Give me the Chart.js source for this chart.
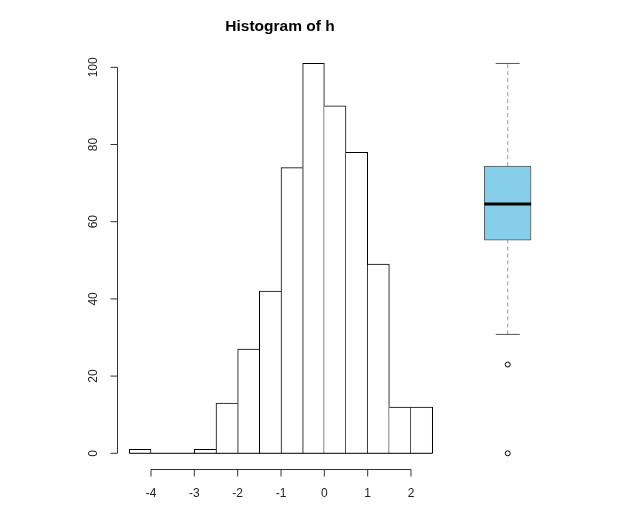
<!DOCTYPE html>
<html>
<head>
<meta charset="utf-8">
<script src="https://cdn.jsdelivr.net/npm/chart.js@4.4.1/dist/chart.umd.min.js"></script>
<style>
  body { margin: 0; background: #fff; }
</style>
</head>
<body>
<canvas id="histChart" width="640" height="517"></canvas>
<script>
// histogram of h
const breaks = [-4.5, -4, -3.5, -3, -2.5, -2, -1.5, -1, -0.5, 0, 0.5, 1, 1.5, 2, 2.5];
const counts = [1, 0, 0, 1, 13, 27, 42, 74, 101, 90, 78, 49, 12, 12];
const xTicks = [-4, -3, -2, -1, 0, 1, 2];
const yTicks = [0, 20, 40, 60, 80, 100];

// boxplot stats
const boxStats = [30.8, 55.2, 64.6, 74.4, 101]; // low whisker, q1, median, q3, high whisker
const outliers = [23, 0];

// where the boxplot sits (layout, not data)
const boxX = 4.232;
const boxHalf = 0.539;
const capHalf = 0.277;

const mids = counts.map((c, i) => (breaks[i] + breaks[i + 1]) / 2);
const last = counts.length - 1;

const rAxes = {
  id: "rAxes",
  afterDraw(chart) {
    const ctx = chart.ctx;
    const xs = chart.scales.x;
    const ys = chart.scales.y;
    ctx.save();
    ctx.strokeStyle = "#333";
    ctx.fillStyle = "#222";
    ctx.lineWidth = 1;

    // y axis
    const ax = Math.round(xs.getPixelForValue(breaks[0]) - 12) + 0.5;
    ctx.beginPath();
    ctx.moveTo(ax, ys.getPixelForValue(yTicks[0]));
    ctx.lineTo(ax, ys.getPixelForValue(yTicks[yTicks.length - 1]));
    ctx.stroke();
    ctx.font = "12px 'Liberation Sans', Arial, sans-serif";
    ctx.textAlign = "center";
    ctx.textBaseline = "middle";
    for (const t of yTicks) {
      const py = ys.getPixelForValue(t);
      ctx.beginPath();
      ctx.moveTo(ax, py);
      ctx.lineTo(ax - 7, py);
      ctx.stroke();
      ctx.save();
      ctx.translate(ax - 24, py);
      ctx.rotate(-Math.PI / 2);
      ctx.fillText(String(t), 0, 0);
      ctx.restore();
    }

    // x axis
    const ay = Math.round(ys.getPixelForValue(0) + 16) + 0.5;
    ctx.beginPath();
    ctx.moveTo(xs.getPixelForValue(xTicks[0]), ay);
    ctx.lineTo(xs.getPixelForValue(xTicks[xTicks.length - 1]), ay);
    ctx.stroke();
    for (const t of xTicks) {
      const px = xs.getPixelForValue(t);
      ctx.beginPath();
      ctx.moveTo(px, ay);
      ctx.lineTo(px, ay + 7);
      ctx.stroke();
      ctx.fillText(String(t), px, ay + 24);
    }

    // title
    ctx.font = "bold 15.5px 'Liberation Sans', Arial, sans-serif";
    ctx.fillStyle = "#000";
    ctx.textBaseline = "alphabetic";
    const cx = (xs.getPixelForValue(breaks[0]) + xs.getPixelForValue(breaks[breaks.length - 1])) / 2;
    ctx.fillText("Histogram of h", cx - 1, 31);
    ctx.restore();
  }
};

const seg = (x1, y1, x2, y2) => [{ x: x1, y: y1 }, { x: x2, y: y2 }];
const lineDs = (data, color, width, dash) => ({
  type: "line",
  data: data,
  borderColor: color,
  borderWidth: width,
  borderDash: dash || [],
  pointRadius: 0,
  fill: false
});

new Chart("histChart", {
  type: "bar",
  data: {
    datasets: [
      lineDs(seg(boxX - boxHalf, boxStats[2], boxX + boxHalf, boxStats[2]), "#000", 3),
      {
        type: "scatter",
        data: outliers.map(v => ({ x: boxX, y: v })),
        pointRadius: 2.5,
        pointBackgroundColor: "#fff",
        pointBorderColor: "#000",
        pointBorderWidth: 1
      },
      {
        data: [{ x: boxX, y: [boxStats[1], boxStats[3]] }],
        backgroundColor: "#87CEEB",
        borderColor: "#555",
        borderWidth: 1,
        borderSkipped: false,
        barThickness: 46.7,
        grouped: false
      },
      lineDs(seg(boxX - capHalf, boxStats[4], boxX + capHalf, boxStats[4]), "#555", 1),
      lineDs(seg(boxX - capHalf, boxStats[0], boxX + capHalf, boxStats[0]), "#555", 1),
      lineDs(seg(boxX, boxStats[3], boxX, boxStats[4]), "#999", 1, [4, 3]),
      lineDs(seg(boxX, boxStats[0], boxX, boxStats[1]), "#999", 1, [4, 3]),
      lineDs(seg(breaks[0], 0, breaks[breaks.length - 1], 0), "#000", 1),
      {
        data: counts.map((c, i) => ({ x: mids[i], y: c })),
        backgroundColor: "#fff",
        borderColor: "#000",
        borderSkipped: false,
        borderWidth: ctx => {
          const i = ctx.dataIndex;
          return {
            left: (i === 0 || counts[i] > counts[i - 1]) ? 1 : 0,
            right: (i === last || counts[i] >= counts[i + 1]) ? 1 : 0,
            top: 1,
            bottom: 0
          };
        },
        barPercentage: 1,
        categoryPercentage: 1,
        grouped: false
      }
    ]
  },
  options: {
    responsive: false,
    animation: false,
    layout: { padding: { left: 107.67, right: 99, top: 36.42, bottom: 48.26 } },
    plugins: { legend: { display: false }, tooltip: { enabled: false } },
    scales: {
      x: { type: "linear", min: -5, max: 5, offset: false, display: false, ticks: { stepSize: 1 } },
      y: { type: "linear", min: -4, max: 108, display: false, ticks: { stepSize: 20 } }
    }
  },
  plugins: [rAxes]
});
</script>
</body>
</html>
